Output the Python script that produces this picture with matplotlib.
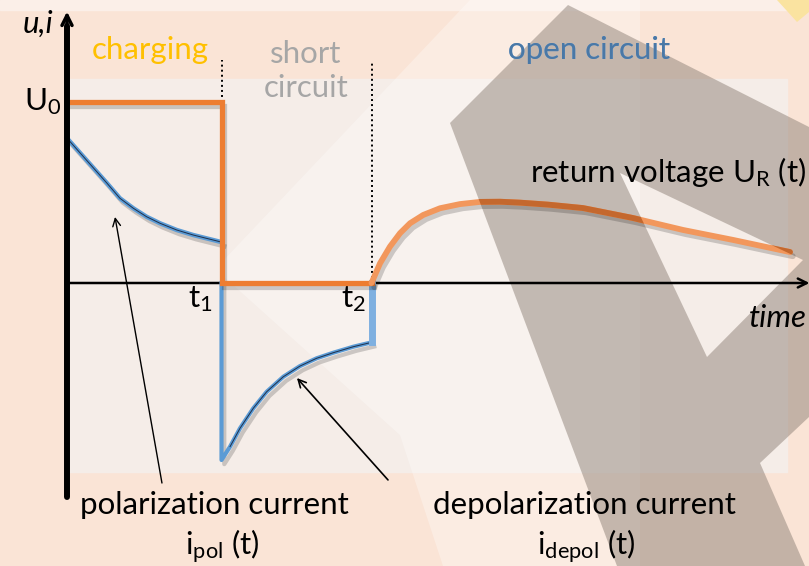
import matplotlib
matplotlib.use("Agg")
import matplotlib.pyplot as plt
import matplotlib.patheffects as pe
from matplotlib.path import Path
from matplotlib.patches import PathPatch, Polygon, Rectangle

plt.rcParams["font.family"] = ["Lato", "DejaVu Sans"]
plt.rcParams["mathtext.fontset"] = "custom"
plt.rcParams["mathtext.rm"] = "Lato"
plt.rcParams["mathtext.it"] = "Lato:italic"

# ---- schematic values (U0 = 1, time in arbitrary units) ----
U0 = 1.0
t1 = 1.03
t2 = 2.03

charge_t = [0, t1, t1, t2]
charge_u = [U0, U0, 0, 0]

pol_t = [0, 0.089, 0.178, 0.267, 0.353, 0.442, 0.531, 0.62, 0.731, 0.842, t1]
pol_i = [0.800, 0.717, 0.634, 0.551, 0.468, 0.413, 0.366, 0.330, 0.293, 0.265,
         0.226]

depol_t = [t1, t1, 1.087, 1.153, 1.242, 1.331, 1.442, 1.553, 1.664, 1.776, 1.909, t2]
depol_i = [0, -0.978, -0.904, -0.803, -0.692, -0.601, -0.518, -0.459, -0.416,
           -0.385, -0.352, -0.328]

ret_t = [t2, 2.087, 2.153, 2.22, 2.287, 2.375, 2.487, 2.62, 2.753, 2.887, 3.02,
         3.207, 3.44, 3.773, 4.107, 4.44, 4.82]
ret_u = [0.0, 0.109, 0.201, 0.275, 0.330, 0.376, 0.413, 0.436, 0.448, 0.449,
         0.444, 0.433, 0.414, 0.359, 0.293, 0.238, 0.171]

fig = plt.figure(figsize=(8.09, 5.66), dpi=100)

# ---- decorative background (pixel coordinates) ----
bg = fig.add_axes([0, 0, 1, 1], zorder=0)
bg.set_xlim(0, 809)
bg.set_ylim(566, 0)
bg.axis("off")
bg.add_patch(Rectangle((0, 0), 809, 566, color="#FAE4D6"))
bg.add_patch(Rectangle((0, 0), 809, 10, color="#FBEFE8"))
bg.add_patch(Rectangle((67, 79), 720, 393, color="#F5EDE8"))
bg.add_patch(Polygon([(470, 0), (640, 0), (640, 566), (443, 566), (400, 435),
                      (222, 275), (222, 262)], color="white", alpha=0.3, lw=0))

outer = [(568, 5), (809, 127), (809, 417), (760, 463), (805, 566), (617, 566),
         (450, 123), (568, 5)]
notch = [(620, 173), (707, 357), (803, 260), (620, 173)]
verts = outer + notch
codes = ([Path.MOVETO] + [Path.LINETO] * (len(outer) - 2) + [Path.CLOSEPOLY]
         + [Path.MOVETO] + [Path.LINETO] * (len(notch) - 2) + [Path.CLOSEPOLY])
mark_path = Path(verts, codes)
bg.add_patch(PathPatch(mark_path, facecolor="#8E8177", alpha=0.5, lw=0))
bg.add_patch(Polygon([(777, 0), (809, 0), (809, 12), (797, 22)],
                     color="#FAE3A0", lw=0))

# ---- schematic axes ----
ax = fig.add_axes([0, 0, 1, 1], zorder=1)
ax.set_xlim(-0.4467, 4.9467)
ax.set_ylim(-1.5635, 1.5635)
ax.patch.set_alpha(0)
ax.axis("off")

shadow = [pe.SimpleLineShadow(offset=(2, -3), shadow_color="k", alpha=0.18),
          pe.Normal()]

# axes lines
ax.plot([0, 0], [-1.18, 1.42], color="k", lw=4.3, solid_capstyle="round",
        zorder=5)
ax.annotate("", xy=(0, 1.515), xytext=(0, 1.3),
            arrowprops=dict(arrowstyle="->", lw=2.5, color="k",
                            mutation_scale=18), zorder=5)
ax.annotate("", xy=(4.95, 0), xytext=(0, 0),
            arrowprops=dict(arrowstyle="->", lw=1.8, color="k",
                            mutation_scale=16, shrinkA=0, shrinkB=0), zorder=2)

# dotted phase separators
ax.plot([t1, t1], [U0, 1.23], color="k", lw=1.4, ls=(0, (1, 1.6)))
ax.plot([t2, t2], [0, 1.22], color="k", lw=1.4, ls=(0, (1, 1.6)))

# currents
ax.plot(pol_t, pol_i, color="#5B9BD5", lw=3.2, path_effects=shadow, zorder=3)
ax.plot(pol_t, pol_i, color="#1F2F4A", lw=0.7, zorder=3)
ax.plot(depol_t, depol_i, color="#5B9BD5", lw=3.0, path_effects=shadow, zorder=3)
ax.plot(depol_t[2:], depol_i[2:], color="#1F2F4A", lw=0.7, zorder=3)
ax.plot([t2, t2], [depol_i[-1], 0], color="#7FB0E0", lw=5, zorder=3)

# charging voltage and return voltage
ax.plot(charge_t, charge_u, color="#ED7D31", lw=3.8, path_effects=shadow,
        solid_joinstyle="miter", zorder=4)
ax.plot(ret_t, ret_u, color="#F2975C", lw=4.2, path_effects=shadow,
        solid_capstyle="round", zorder=4)
dark = ax.plot(ret_t, ret_u, color="#C4682E", lw=4.2, solid_capstyle="round",
               zorder=4)[0]
dark.set_clip_path(mark_path, bg.transData)

# ---- labels ----
fs = 22.5
ax.text(-0.19, 1.43, "u,i", fontsize=fs, style="italic", ha="center",
        va="center")
ax.text(-0.04, 1.0, "U$_0$", fontsize=fs, ha="right", va="center")
ax.text(0.553, 1.285, "charging", fontsize=fs, color="#FFC000", ha="center",
        va="center")
ax.text(1.593, 1.17, "short\ncircuit", fontsize=fs, color="#A6A6A6",
        ha="center", va="center", linespacing=1.25)
ax.text(3.48, 1.285, "open circuit", fontsize=fs, color="#6FA3D8", ha="center",
        va="center")
oc = ax.text(3.48, 1.285, "open circuit", fontsize=fs, color="#4A78A6",
             ha="center", va="center")
oc.set_clip_path(mark_path, bg.transData)
ax.text(4.93, 0.615, r"return voltage U$_\mathrm{R}$ (t)", fontsize=fs,
        ha="right", va="center")
ax.text(0.887, -0.09, "t$_1$", fontsize=fs, ha="center", va="center")
ax.text(1.913, -0.09, "t$_2$", fontsize=fs, ha="center", va="center")
ax.text(4.93, -0.195, "time", fontsize=fs, style="italic", ha="right",
        va="center")
ax.text(0.98, -1.227, "polarization current", fontsize=fs, ha="center",
        va="center")
ax.text(1.033, -1.46, r"i$_\mathrm{pol}$ (t)", fontsize=fs, ha="center",
        va="center")
ax.text(3.447, -1.227, "depolarization current", fontsize=fs, ha="center",
        va="center")
ax.text(3.46, -1.46, r"i$_\mathrm{depol}$ (t)", fontsize=fs, ha="center",
        va="center")

# pointer arrows
ax.annotate("", xy=(0.32, 0.365), xytext=(0.633, -1.105),
            arrowprops=dict(arrowstyle="->", lw=1.0, color="k",
                            mutation_scale=14, shrinkA=0, shrinkB=0))
ax.annotate("", xy=(1.533, -0.525), xytext=(2.14, -1.088),
            arrowprops=dict(arrowstyle="->", lw=1.2, color="k",
                            mutation_scale=14, shrinkA=0, shrinkB=0))

fig.savefig("out.png", dpi=100)
